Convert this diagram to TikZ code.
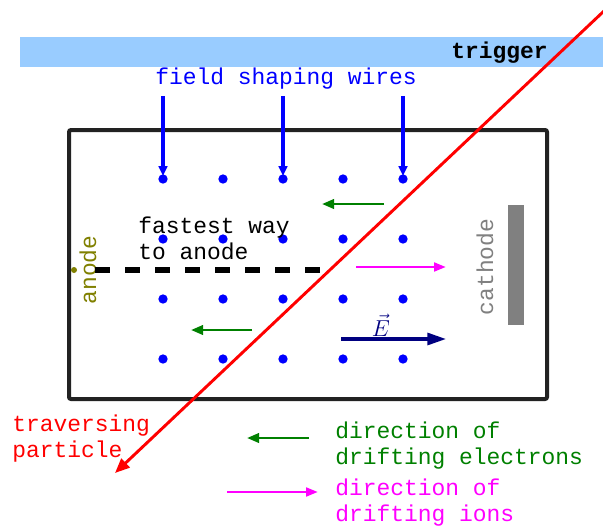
\documentclass[tikz,border=0pt]{standalone}
\usepackage{fontspec}
\newfontfamily\mono{Liberation Mono}
\usetikzlibrary{arrows.meta}
\definecolor{trig}{RGB}{153,204,255}
\definecolor{boxc}{RGB}{34,34,34}
\definecolor{dgreen}{RGB}{0,128,0}
\definecolor{navyc}{RGB}{0,0,128}
\definecolor{olivec}{RGB}{128,128,0}
\definecolor{grayc}{RGB}{128,128,128}
\definecolor{magc}{RGB}{255,0,255}
\begin{document}
\begin{tikzpicture}[x=0.75pt,y=-0.75pt,
  txt/.style={font=\mono\fontsize{17.2}{19.5}\selectfont, inner sep=0pt, align=left},
  wdot/.style={circle, fill=blue, inner sep=0pt, minimum size=7pt},
  wirearrow/.style={draw=blue, line width=2.3pt, -{Triangle[length=7.5pt,width=6.5pt]}},
  elarrow/.style={draw=dgreen, line width=2pt, -{Triangle[length=9pt,width=7pt]}},
  ionarrow/.style={draw=magc, line width=2.1pt, -{Triangle[length=9pt,width=6.5pt]}},
  earrow/.style={draw=navyc, line width=2.3pt, -{Triangle[length=14pt,width=9pt]}},
  partarrow/.style={draw=red, line width=2.2pt, -{Triangle[length=11pt,width=9pt]}}]
\useasboundingbox (0,0) rectangle (603,525);
% trigger bar
\fill[trig] (20,37) rectangle (603,67);
\node[txt, font={\mono\fontsize{17.2}{19.5}\selectfont\bfseries}, anchor=east] (trigger) at (548,53) {trigger};
% chamber
\draw[boxc, line width=3pt, rounded corners=1.5pt] (69,130) rectangle (547,399);
% wires
\foreach \i/\x in {1/163,2/223,3/283,4/343,5/403}
  \foreach \j/\y in {1/179,2/239,3/299,4/359}
    \node[wdot] (d\i\j) at (\x,\y) {};
% field shaping wires label and arrows
\node[txt, text=blue] (fsw) at (286,79) {field shaping wires};
\foreach \i/\x in {1/163,3/283,5/403}
  \coordinate (ws\i) at (\x,96);
\foreach \i in {1,3,5}
  \draw[wirearrow] (ws\i) -- ([yshift=-1.5pt]d\i1.north);
% anode
\node[circle, fill=olivec, inner sep=0pt, minimum size=4.5pt] (anodedot) at (74,270) {};
\node[txt, text=olivec, rotate=90] (anode) at (88,270) {anode};
% fastest way
\coordinate (fw0) at (95,270);
\coordinate (fw1) at (326,270);
\draw[black, line width=3.8pt, dash pattern=on 11.5pt off 11pt] (fw0) -- (fw1);
\node[txt, anchor=west] (fastest) at (138,238) {fastest way\\to anode};
% cathode
\node[fill=grayc, inner sep=0pt, minimum width=12pt, minimum height=90pt] (cathodeplate) at (516,264.5) {};
\node[txt, text=grayc, rotate=90] (cathode) at (485,267) {cathode};
% drift arrows in chamber
\coordinate (e1a) at (384,204); \coordinate (e1b) at (322,204);
\draw[elarrow] (e1a) -- (e1b);
\coordinate (e2a) at (252,330); \coordinate (e2b) at (191,330);
\draw[elarrow] (e2a) -- (e2b);
\coordinate (i1a) at (356,267); \coordinate (i1b) at (446,267);
\draw[ionarrow] (i1a) -- (i1b);
\coordinate (Ea) at (341,339); \coordinate (Eb) at (446,339);
\draw[earrow] (Ea) -- (Eb);
\node[text=navyc, font=\fontsize{17}{20}\selectfont, inner sep=0pt] (Elabel) at (381,325) {$\vec{E}$};
% traversing particle
\coordinate (pa) at (604,11);
\coordinate (pb) at (115,473);
\draw[partarrow] (pa) -- (pb);
\node[txt, text=red, anchor=west] (trav) at (12,439) {traversing\\particle};
% legend
\coordinate (le1) at (309,438); \coordinate (le2) at (247,438);
\draw[elarrow] (le1) -- (le2);
\node[txt, text=dgreen, anchor=west] (legel) at (335,446) {direction of\\drifting electrons};
\coordinate (li1) at (227,492); \coordinate (li2) at (318,492);
\draw[ionarrow] (li1) -- (li2);
\node[txt, text=magc, anchor=west] (legion) at (335,503) {direction of\\drifting ions};
\end{tikzpicture}
\end{document}
